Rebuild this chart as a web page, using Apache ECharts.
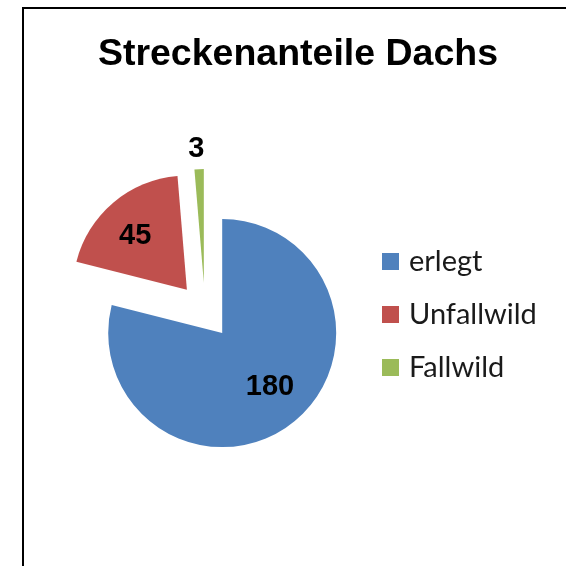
<!DOCTYPE html>
<html>
<head>
<meta charset="utf-8">
<script src="https://cdn.jsdelivr.net/npm/echarts@6/dist/echarts.min.js"></script>
<style>
  html, body { margin: 0; padding: 0; background: #fff; }
  #myChart { width: 566px; height: 566px; }
</style>
</head>
<body>
<div id="myChart"></div>
<script>
// Daten
var categories = ["erlegt", "Unfallwild", "Fallwild"];
var values = [180, 45, 3];
var colors = ["#4F81BD", "#C0504D", "#9BBB59"];

function blank(n) {
  var s = "";
  for (var k = 0; k < n; k++) s += "\n";
  return s;
}

// Label-Feinjustierung je Segment
var labelStyles = [
  // erlegt: innen, etwas nach rechts unten
  { position: "inside", padding: [0, 0, 0, 22], lineHeight: 14, formatter: blank(1) + "{c}" },
  // Unfallwild: innen, nach links oben
  { position: "inside", padding: [0, 26, 0, 0], lineHeight: 16, formatter: "{c}" + blank(1) },
  // Fallwild: außen über der Spitze
  { position: "outside", distanceToLabelLine: -6, formatter: "{c}" },
];

var myChart = echarts.init(document.getElementById("myChart"));

var options = {
  animation: false,
  title: {
    text: "Streckenanteile Dachs",
    left: 293,
    top: 31,
    textAlign: "center",
    textStyle: {
      fontFamily: "Liberation Sans",
      fontWeight: "bold",
      fontSize: 37.5,
      color: "#000",
    },
  },
  legend: {
    orient: "vertical",
    left: 382,
    top: 246,
    padding: 0,
    itemWidth: 17,
    itemHeight: 17,
    itemGap: 22,
    icon: "rect",
    data: categories,
    textStyle: {
      fontFamily: "Lato",
      fontSize: 29,
      color: "#1a1a1a",
      lineHeight: 31,
      padding: [0, 0, 0, 5],
    },
  },
  graphic: [
    {
      type: "rect",
      shape: { x: 23, y: 8, width: 700, height: 700 },
      style: { fill: "none", stroke: "#000", lineWidth: 2 },
      silent: true,
    },
  ],
  series: [
    {
      type: "pie",
      center: [205, 311],
      radius: 114,
      startAngle: 90,
      clockwise: true,
      avoidLabelOverlap: false,
      selectedMode: "multiple",
      selectedOffset: 28,
      emphasis: { disabled: true },
      data: categories.map(function (name, i) {
        return {
          name: name,
          value: values[i],
          selected: true,
          itemStyle: { color: colors[i] },
          label: labelStyles[i],
        };
      }),
      label: {
        show: true,
        fontFamily: "Liberation Sans",
        fontWeight: "bold",
        fontSize: 29,
        color: "#000",
      },
      labelLine: { show: false, length: 20, length2: 0 },
    },
  ],
};

myChart.setOption(options, true);
</script>
</body>
</html>
